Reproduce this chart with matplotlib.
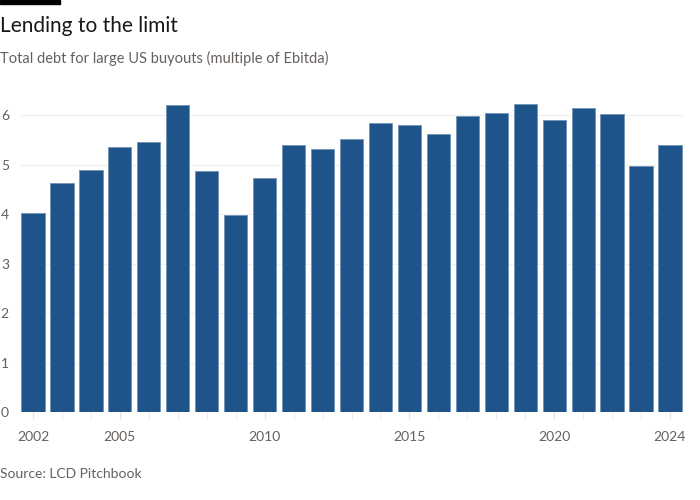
import numpy as np
import matplotlib.pyplot as plt
from matplotlib.patches import Rectangle

# Total debt / Ebitda for large US buyouts
years = list(range(2002, 2025))
multiples = [4.03, 4.62, 4.90, 5.35, 5.46, 6.20, 4.87, 3.99, 4.74, 5.39, 5.31, 5.52,
             5.85, 5.80, 5.62, 5.98, 6.05, 6.22, 5.91, 6.14, 6.03, 4.97, 5.39]
year_labels = [2002, 2005, 2010, 2015, 2020, 2024]
y_ticks = [0, 1, 2, 3, 4, 5, 6]

plt.rcParams['font.family'] = ['Lato', 'DejaVu Sans']

fig = plt.figure(figsize=(7, 5), dpi=100)
fig.patch.set_facecolor('white')

# black tag in the top-left corner
fig.patches.append(Rectangle((0, 0.992), 60 / 700, 0.008, transform=fig.transFigure,
                             color='black', zorder=5))

fig.text(0.0, 0.948, 'Lending to the limit', fontsize=15, color='#1a1817', va='center')
fig.text(0.0, 0.884, 'Total debt for large US buyouts (multiple of Ebitda)',
         fontsize=10.5, color='#66605c', va='center')
fig.text(0.0, 0.052, 'Source: LCD Pitchbook', fontsize=10, color='#66605c', va='center')

ax = fig.add_axes([20 / 700, 88 / 500, 663 / 700, 324 / 500])
x = np.arange(len(years))
ax.bar(x, multiples, width=0.8, color='#1f548b', edgecolor='#6f93b8', linewidth=0.6, zorder=3)

ax.set_xlim(-0.45, len(years) - 0.55)
ax.set_ylim(0, 6.55)
ax.set_yticks(y_ticks)
ax.set_yticklabels([str(t) for t in y_ticks])
ax.grid(axis='y', color='#f2efec', linewidth=0.8, zorder=0)

ax.set_xticks(x, minor=True)
ax.set_xticks([years.index(y) for y in year_labels])
ax.set_xticklabels([str(y) for y in year_labels])
ax.tick_params(axis='x', which='both', length=5, color='#e6e1dc', labelsize=10,
               labelcolor='#66605c', pad=9)
ax.tick_params(axis='y', length=0, labelsize=10, labelcolor='#66605c', pad=8)

for s in ax.spines.values():
    s.set_visible(False)

fig.savefig('out.png', dpi=100, facecolor='white')
